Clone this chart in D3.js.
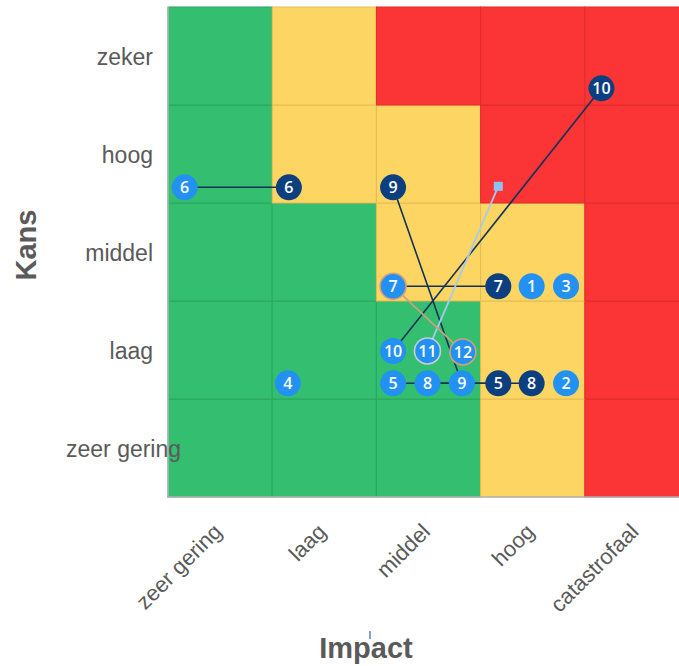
<!DOCTYPE html>
<html>
<head>
<meta charset="utf-8">
<script src="https://cdn.jsdelivr.net/npm/d3@7/dist/d3.min.js"></script>
<style>
  html, body { margin: 0; padding: 0; background: #ffffff; }
  svg { display: block; }
</style>
</head>
<body>
<div id="chart"></div>
<script>
// ---------- data ----------
const impactLabels = ["zeer gering", "laag", "middel", "hoog", "catastrofaal"];
const kansLabels = ["zeer gering", "laag", "middel", "hoog", "zeker"]; // bottom -> top
// risk level per cell, rows bottom (zeer gering) -> top (zeker), columns impact
const riskLevels = [
  ["G", "G", "G", "Y", "R"],
  ["G", "G", "G", "Y", "R"],
  ["G", "G", "Y", "Y", "R"],
  ["G", "Y", "Y", "R", "R"],
  ["G", "Y", "R", "R", "R"]
];
const riskIds    = [1, 2, 3, 4, 5, 6, 7, 8, 9, 10, 11, 12];
// current position (impact, kans) in category units
const curImpact  = [3.49, 3.82, 3.82, 1.15, 2.16, 0.16, 2.16, 2.49, 2.82, 2.16, 2.49, 2.83];
const curKans    = [2.15, 1.16, 2.15, 1.16, 1.16, 3.16, 2.15, 1.16, 1.16, 1.49, 1.49, 1.48];
// target / linked position
const tgtImpact  = [null, null, null, null, 3.17, 1.16, 3.17, 3.49, 2.16, 4.16, 3.17, 2.16];
const tgtKans    = [null, null, null, null, 1.16, 3.16, 2.15, 1.16, 3.16, 4.17, 3.17, 2.15];
const tgtShape   = [null, null, null, null, "circle", "circle", "circle", "circle", "circle", "circle", "square", "none"];
const linkStyle  = [null, null, null, null, "dark", "dark", "dark", "dark", "dark", "dark", "light", "tan"];
const ringStyle  = [null, null, null, null, null, null, "tan", null, null, null, "grey", "tan"];

// ---------- styles ----------
const W = 679, H = 666;
const cellFill = { G: "#33bf6f", Y: "#fdd562", R: "#fb3535" };
const cellStroke = { G: "#2aa660", Y: "#e3bd52", R: "#e02b2b" };
const lightBlue = "#2391f1", darkBlue = "#0b3f7f";
const linkColor = { dark: "#13325a", light: "#a9c9ea", tan: "#c9a27e" };
const ringColor = { tan: "#d2a07a", grey: "#c8ccd4" };
const labelColor = "#5a5a5a";

const svg = d3.select("#chart").append("svg").attr("width", W).attr("height", H);

const plotLeft = 168, plotTop = 7, cellW = 104.2, cellH = 98;
const x = d3.scaleLinear().domain([0, 5]).range([plotLeft, plotLeft + 5 * cellW]);
const y = d3.scaleLinear().domain([0, 5]).range([plotTop + 5 * cellH, plotTop]);
const xBand = d3.scaleBand().domain(impactLabels).range([plotLeft, plotLeft + 5 * cellW]);
const yBand = d3.scaleBand().domain(kansLabels.slice().reverse()).range([plotTop, plotTop + 5 * cellH]);

// cells
const cells = [];
kansLabels.forEach((k, ri) => impactLabels.forEach((im, ci) => cells.push({ k, im, lvl: riskLevels[ri][ci] })));
svg.append("g").selectAll("rect").data(cells).join("rect")
  .attr("x", d => xBand(d.im)).attr("y", d => yBand(d.k))
  .attr("width", xBand.bandwidth()).attr("height", yBand.bandwidth())
  .attr("fill", d => cellFill[d.lvl])
  .attr("stroke", d => cellStroke[d.lvl]).attr("stroke-width", 1);

// axis lines
svg.append("line").attr("x1", plotLeft).attr("x2", plotLeft).attr("y1", plotTop).attr("y2", y(0) + 1)
  .attr("stroke", "#b5b5b5").attr("stroke-width", 1.5);
svg.append("line").attr("x1", plotLeft).attr("x2", W).attr("y1", y(0)).attr("y2", y(0))
  .attr("stroke", "#b5b5b5").attr("stroke-width", 1.5);

// y labels
const yl = svg.append("g").selectAll("text").data(kansLabels).join("text")
  .attr("y", d => yBand(d) + yBand.bandwidth() / 2)
  .attr("dy", "0.4em")
  .attr("font-family", "'Liberation Sans', Arial, sans-serif")
  .attr("font-size", 23).attr("fill", labelColor)
  .text(d => d);
yl.each(function () {
  const w = this.getComputedTextLength();
  d3.select(this).attr("x", Math.max(66, 153 - w));
});

// x labels
svg.append("g").selectAll("text").data(impactLabels).join("text")
  .attr("transform", d => `translate(${xBand(d) + xBand.bandwidth() / 2 + 3},${533}) rotate(-45)`)
  .attr("text-anchor", "end")
  .attr("font-family", "'Liberation Sans', Arial, sans-serif")
  .attr("font-size", 22).attr("fill", labelColor)
  .text(d => d);

// axis titles
svg.append("text").attr("transform", "translate(36,245) rotate(-90)")
  .attr("text-anchor", "middle")
  .attr("font-family", "'Liberation Sans', Arial, sans-serif")
  .attr("font-weight", "bold").attr("font-size", 29).attr("fill", labelColor)
  .text("Kans");
svg.append("text").attr("x", 366).attr("y", 658)
  .attr("text-anchor", "middle")
  .attr("font-family", "'Liberation Sans', Arial, sans-serif")
  .attr("font-weight", "bold").attr("font-size", 29).attr("fill", labelColor)
  .text("Impact");
svg.append("line").attr("x1", 370).attr("x2", 370).attr("y1", 631).attr("y2", 639)
  .attr("stroke", "#2f5fb0").attr("stroke-width", 1.2);

// risks
const risks = riskIds.map((id, i) => ({
  id, cx: curImpact[i], cy: curKans[i], tx: tgtImpact[i], ty: tgtKans[i],
  shape: tgtShape[i], link: linkStyle[i], ring: ringStyle[i]
}));

const gLinks = svg.append("g");
gLinks.selectAll("line").data(risks.filter(d => d.link)).join("line")
  .attr("x1", d => x(d.cx)).attr("y1", d => y(d.cy))
  .attr("x2", d => x(d.tx)).attr("y2", d => y(d.ty))
  .attr("stroke", d => linkColor[d.link]).attr("stroke-width", d => d.link === "dark" ? 1.6 : 1.8);

const R = 13;
const numFont = "'Open Sans', 'Noto Sans', sans-serif";

// target markers
const tgt = svg.append("g");
tgt.selectAll("rect").data(risks.filter(d => d.shape === "square")).join("rect")
  .attr("x", d => x(d.tx) - 4.5).attr("y", d => y(d.ty) - 4.5)
  .attr("width", 9).attr("height", 9).attr("fill", "#8fc0f2");
const tc = tgt.selectAll("g").data(risks.filter(d => d.shape === "circle")).join("g")
  .attr("transform", d => `translate(${x(d.tx)},${y(d.ty)})`);
tc.append("circle").attr("r", R).attr("fill", darkBlue);
tc.append("text").attr("text-anchor", "middle").attr("dy", "0.36em")
  .attr("font-family", numFont).attr("font-weight", 600).attr("font-size", 16)
  .attr("fill", "#ffffff").text(d => d.id);

// current markers
const cc = svg.append("g").selectAll("g").data(risks).join("g")
  .attr("transform", d => `translate(${x(d.cx)},${y(d.cy)})`);
cc.append("circle").attr("r", R).attr("fill", lightBlue)
  .attr("stroke", d => d.ring ? ringColor[d.ring] : "none").attr("stroke-width", 1.6);
cc.append("text").attr("text-anchor", "middle").attr("dy", "0.36em")
  .attr("font-family", numFont).attr("font-weight", 600).attr("font-size", 16)
  .attr("fill", "#ffffff").text(d => d.id);
</script>
</body>
</html>
